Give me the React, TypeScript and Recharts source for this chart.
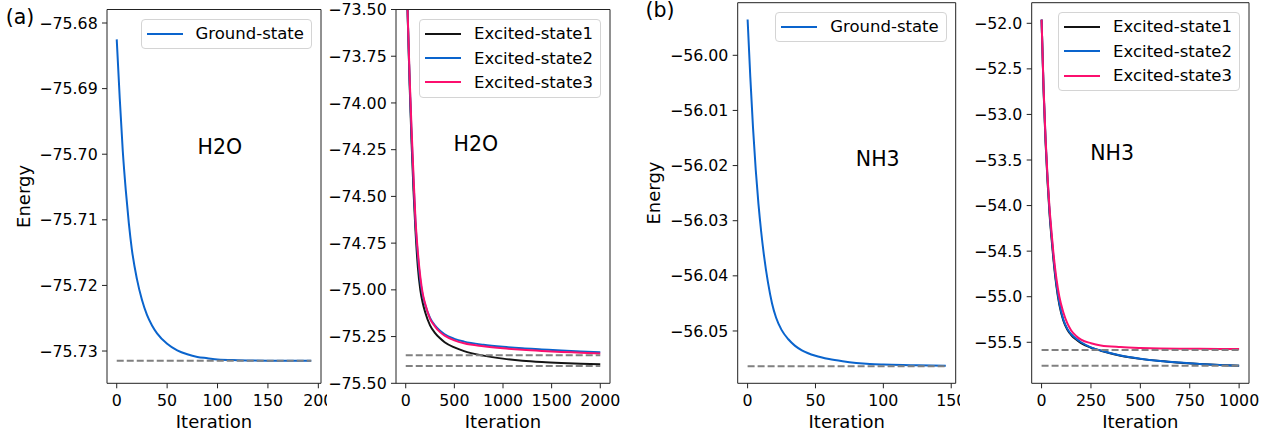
import React from 'react'
import { LineChart, Line, XAxis, YAxis, Legend, ReferenceLine } from 'recharts'

const FONT = '"DejaVu Sans", Verdana, sans-serif'
const BLUE = '#0a64cd'
const PINK = '#fc0f6e'
const BLACK = '#141414'
const GREY = '#808080'

// (a) H2O ground state
const h2oGroundIter = [0, 3, 6, 9, 12, 15, 20, 25, 30, 35, 40, 50, 60, 70, 80, 90, 100, 120, 150, 193]
const h2oGroundEnergy = [-75.6825, -75.6915, -75.6995, -75.7055, -75.7105, -75.7145, -75.719, -75.7222, -75.7245, -75.7261, -75.7273, -75.7289, -75.7299, -75.7305, -75.7309, -75.7311, -75.7313, -75.7314, -75.73148, -75.7315]
const h2oGroundRefs = [-75.7315]
const h2oGroundXTicks = [0, 50, 100, 150, 200]
const h2oGroundYTicks = [-75.73, -75.72, -75.71, -75.7, -75.69, -75.68]

// (a) H2O excited states
const h2oExcIter = [0, 20, 40, 60, 80, 100, 125, 150, 175, 200, 250, 300, 350, 400, 500, 600, 800, 1000, 1200, 1400, 1600, 1800, 2000]
const h2oExc1 = [-73.08, -73.53, -73.9, -74.21, -74.47, -74.68, -74.88, -75.0, -75.07, -75.12, -75.19, -75.23, -75.258, -75.28, -75.308, -75.328, -75.352, -75.368, -75.379, -75.386, -75.391, -75.395, -75.398]
const h2oExc2 = [-73.1, -73.53, -73.88, -74.17, -74.42, -74.64, -74.82, -74.95, -75.03, -75.08, -75.15, -75.19, -75.218, -75.238, -75.262, -75.277, -75.294, -75.305, -75.313, -75.319, -75.325, -75.33, -75.334]
const h2oExc3 = [-73.1, -73.52, -73.86, -74.14, -74.39, -74.62, -74.8, -74.93, -75.02, -75.075, -75.155, -75.195, -75.225, -75.245, -75.27, -75.286, -75.302, -75.313, -75.321, -75.327, -75.332, -75.336, -75.34]
const h2oExcRefs = [-75.35, -75.407]
const h2oExcXTicks = [0, 500, 1000, 1500, 2000]
const h2oExcYTicks = [-75.5, -75.25, -75.0, -74.75, -74.5, -74.25, -74.0, -73.75, -73.5]

// (b) NH3 ground state
const nh3GroundIter = [0, 2, 4, 6, 8, 10, 12, 15, 18, 21, 25, 30, 35, 40, 50, 60, 70, 80, 90, 100, 120, 146]
const nh3GroundEnergy = [-55.9935, -56.004, -56.0132, -56.0208, -56.027, -56.032, -56.0362, -56.0412, -56.045, -56.0476, -56.0498, -56.0515, -56.0527, -56.0535, -56.0545, -56.0551, -56.0555, -56.0558, -56.056, -56.0561, -56.0562, -56.0563]
const nh3GroundRefs = [-56.0564]
const nh3GroundXTicks = [0, 50, 100, 150]
const nh3GroundYTicks = [-56.05, -56.04, -56.03, -56.02, -56.01, -56.0]

// (b) NH3 excited states
const nh3ExcIter = [0, 10, 20, 30, 40, 50, 60, 75, 90, 110, 130, 150, 175, 200, 250, 300, 400, 500, 600, 700, 800, 900, 1000]
const nh3Exc1 = [-51.96, -52.73, -53.3, -53.73, -54.08, -54.35, -54.59, -54.88, -55.09, -55.26, -55.36, -55.42, -55.47, -55.51, -55.56, -55.593, -55.647, -55.682, -55.706, -55.724, -55.739, -55.75, -55.757]
const nh3Exc2 = [-51.96, -52.71, -53.27, -53.7, -54.05, -54.32, -54.56, -54.86, -55.07, -55.25, -55.35, -55.41, -55.46, -55.5, -55.555, -55.59, -55.645, -55.68, -55.705, -55.723, -55.738, -55.749, -55.757]
const nh3Exc3 = [-51.96, -52.7, -53.25, -53.68, -54.02, -54.28, -54.52, -54.8, -55.0, -55.17, -55.29, -55.37, -55.43, -55.47, -55.51, -55.535, -55.553, -55.562, -55.567, -55.57, -55.572, -55.573, -55.574]
const nh3ExcRefs = [-55.585, -55.757]
const nh3ExcXTicks = [0, 250, 500, 750, 1000]
const nh3ExcYTicks = [-55.5, -55.0, -54.5, -54.0, -53.5, -53.0, -52.5, -52.0]

const fmt = (d: number) => (v: number) => (v < 0 ? '\u2212' : '') + Math.abs(v).toFixed(d)

type Series = { name: string; color: string; values: number[] }

const BoxLegend = (props: any) => {
  const items = (props.payload || []).filter((p: any) => p.type !== 'none')
  return (
    <div style={{ background: '#fff', border: '1px solid #d4d4d4', borderRadius: 4, padding: '2px 7px 2px 5px', fontFamily: FONT, fontSize: 16.5, color: '#000', whiteSpace: 'nowrap' }}>
      {items.map((p: any) => (
        <div key={p.value} style={{ display: 'flex', alignItems: 'center', height: 24.4 }}>
          <svg width={36} height={4} style={{ flex: 'none' }}>
            <line x1={0} x2={36} y1={2} y2={2} stroke={p.color} strokeWidth={2} />
          </svg>
          <span style={{ marginLeft: 13 }}>{p.value}</span>
        </div>
      ))}
    </div>
  )
}

function Panel(props: {
  left: number; width: number; yAxisWidth: number; top: number; right: number
  iter: number[]; series: Series[]; refs: number[]
  xDomain: [number, number]; xTicks: number[]
  yDomain: [number, number]; yTicks: number[]; yDigits: number
}) {
  const { left, width, yAxisWidth, top, right, iter, series, refs } = props
  const rows = iter.map((it, i) => {
    const r: any = { iter: it }
    series.forEach((s, k) => { r['s' + k] = s.values[i] })
    return r
  })
  const last = iter[iter.length - 1]
  const axisLine = { stroke: '#222', strokeWidth: 1 }
  const tick = { fontSize: 15.8, fill: '#000', fontFamily: FONT }
  return (
    <div style={{ position: 'absolute', left, top: 0, width, height: 441, overflow: 'hidden', background: '#fff' }}>
      <LineChart width={width} height={441} data={rows} margin={{ top, right, bottom: 0, left: 0 }}>
        <XAxis dataKey="iter" type="number" domain={props.xDomain} ticks={props.xTicks} interval={0} allowDataOverflow
          height={57.7} tickSize={5} tickMargin={6} axisLine={axisLine} tickLine={{ stroke: '#222' }} tick={tick}
          label={{ value: 'Iteration', position: 'insideBottom', offset: 12.7, fontSize: 18, fill: '#000', fontFamily: FONT }} />
        <YAxis type="number" domain={props.yDomain} ticks={props.yTicks} interval={0} allowDataOverflow
          width={yAxisWidth} tickSize={5} tickMargin={4.3} axisLine={axisLine} tickLine={{ stroke: '#222' }} tick={tick}
          tickFormatter={fmt(props.yDigits)} />
        {series.map((s, k) => (
          <Line key={s.name} dataKey={'s' + k} name={s.name} type="monotone" stroke={s.color} strokeWidth={2}
            dot={false} activeDot={false} isAnimationActive={false} />
        ))}
        {refs.map((v, k) => (
          <Line key={'ref' + k} data={[{ iter: 0, ref: v }, { iter: last, ref: v }]} dataKey="ref" type="linear"
            stroke={GREY} strokeWidth={2} strokeDasharray="7 3" dot={false} activeDot={false}
            legendType="none" isAnimationActive={false} />
        ))}
        {/* top and right spines */}
        <ReferenceLine y={props.yDomain[1]} stroke="#222" strokeWidth={1} ifOverflow="visible" />
        <ReferenceLine x={props.xDomain[1]} stroke="#222" strokeWidth={1} ifOverflow="visible" />
        <Legend layout="vertical" align="center" verticalAlign="middle" content={<BoxLegend />}
          wrapperStyle={{ top: top + 9, right: right + 9, left: 'auto', bottom: 'auto', width: 'auto' }} />
      </LineChart>
    </div>
  )
}

export default function App() {
  const note = { fontSize: 20.5, fill: '#000', fontFamily: FONT }
  const axisNote = { fontSize: 18, fill: '#000', fontFamily: FONT }
  return (
    <div style={{ position: 'absolute', left: 0, top: 0, width: 1279, height: 441, background: '#fff', overflow: 'hidden', fontFamily: FONT }}>
      <Panel left={0} width={330} yAxisWidth={107} top={9.5} right={9}
        iter={h2oGroundIter} series={[{ name: 'Ground-state', color: BLUE, values: h2oGroundEnergy }]} refs={h2oGroundRefs}
        xDomain={[-9.65, 202.65]} xTicks={h2oGroundXTicks} yDomain={[-75.73492, -75.67794]} yTicks={h2oGroundYTicks} yDigits={2} />
      <Panel left={327} width={293} yAxisWidth={69} top={9.5} right={10}
        iter={h2oExcIter}
        series={[
          { name: 'Excited-state1', color: BLACK, values: h2oExc1 },
          { name: 'Excited-state2', color: BLUE, values: h2oExc2 },
          { name: 'Excited-state3', color: PINK, values: h2oExc3 },
        ]}
        refs={h2oExcRefs}
        xDomain={[-100, 2100]} xTicks={h2oExcXTicks} yDomain={[-75.5, -73.5]} yTicks={h2oExcYTicks} yDigits={2} />
      <Panel left={640} width={320} yAxisWidth={97.7} top={2.7} right={4.3}
        iter={nh3GroundIter} series={[{ name: 'Ground-state', color: BLUE, values: nh3GroundEnergy }]} refs={nh3GroundRefs}
        xDomain={[-7.3, 153.3]} xTicks={nh3GroundXTicks} yDomain={[-56.05949, -55.99046]} yTicks={nh3GroundYTicks} yDigits={2} />
      <Panel left={960} width={319} yAxisWidth={71.7} top={2.7} right={30}
        iter={nh3ExcIter}
        series={[
          { name: 'Excited-state1', color: BLACK, values: nh3Exc1 },
          { name: 'Excited-state2', color: BLUE, values: nh3Exc2 },
          { name: 'Excited-state3', color: PINK, values: nh3Exc3 },
        ]}
        refs={nh3ExcRefs}
        xDomain={[-50, 1050]} xTicks={nh3ExcXTicks} yDomain={[-55.95, -51.774]} yTicks={nh3ExcYTicks} yDigits={1} />
      <svg width={1279} height={441} style={{ position: 'absolute', left: 0, top: 0, pointerEvents: 'none' }}>
        <text x={5.7} y={24.3} {...note}>(a)</text>
        <text x={645.4} y={16.6} {...note}>(b)</text>
        <text transform="translate(30.4,196.4) rotate(-90)" textAnchor="middle" {...axisNote}>Energy</text>
        <text transform="translate(659.8,193) rotate(-90)" textAnchor="middle" {...axisNote}>Energy</text>
        <text x={197.5} y={154.3} {...note}>H2O</text>
        <text x={453.5} y={150.7} {...note}>H2O</text>
        <text x={855.8} y={166} {...note}>NH3</text>
        <text x={1090.2} y={160} {...note}>NH3</text>
      </svg>
    </div>
  )
}
